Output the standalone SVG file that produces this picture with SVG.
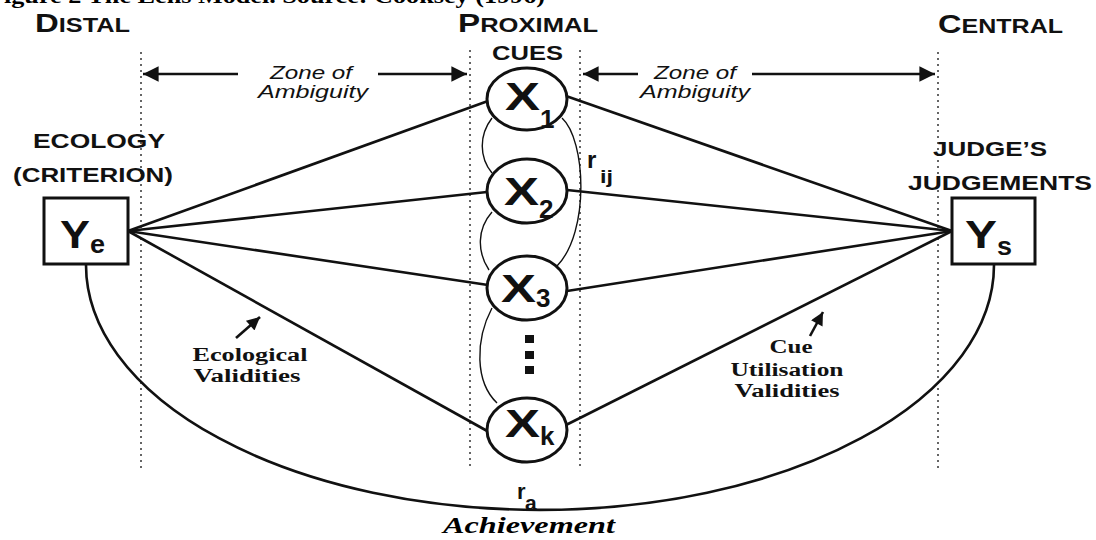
<svg xmlns="http://www.w3.org/2000/svg" width="1096" height="540" viewBox="0 0 1096 540">
<style>
.hdr{font-family:"Liberation Sans",Arial,sans-serif;font-weight:bold;fill:#111}
.zone{font-family:"Liberation Sans",Arial,sans-serif;font-style:italic;font-size:19px;fill:#111}
.ser{font-family:"Liberation Serif","Times New Roman",serif;font-weight:bold;font-size:18px;fill:#111}
.xl{font-family:"Liberation Sans",Arial,sans-serif;font-weight:bold;fill:#111}
.dot{stroke:#333;stroke-width:1.5;stroke-dasharray:2 4;fill:none}
.ln{stroke:#111;stroke-width:2.6;fill:none}
.thin{stroke:#111;stroke-width:1.4;fill:none}
.node{fill:#fff;stroke:#111;stroke-width:3}
</style>
<defs>
<marker id="ah" viewBox="0 0 10 10" refX="10" refY="5" markerWidth="8" markerHeight="6" markerUnits="strokeWidth" orient="auto">
<path d="M0,0 L10,5 L0,10 z" fill="#111"/>
</marker>
<marker id="ahs" viewBox="0 0 10 10" refX="10" refY="5" markerWidth="6" markerHeight="5" markerUnits="strokeWidth" orient="auto">
<path d="M0,0 L10,5 L0,10 z" fill="#111"/>
</marker>
</defs>
<rect width="1096" height="540" fill="#fff"/>
<text x="-12" y="3" font-family="Liberation Serif,'Times New Roman',serif" font-weight="bold" font-size="22" textLength="557" lengthAdjust="spacingAndGlyphs">Figure 2 The Lens Model. Source: Cooksey (1996)</text>

<g id="headers">
<text class="hdr" x="35" y="32" textLength="95" lengthAdjust="spacingAndGlyphs"><tspan font-size="26">D</tspan><tspan font-size="20">ISTAL</tspan></text>
<text class="hdr" x="458" y="32" textLength="140" lengthAdjust="spacingAndGlyphs"><tspan font-size="26">P</tspan><tspan font-size="20">ROXIMAL</tspan></text>
<text class="hdr" x="492" y="60" font-size="20" textLength="71" lengthAdjust="spacingAndGlyphs">CUES</text>
<text class="hdr" x="938" y="33" textLength="125" lengthAdjust="spacingAndGlyphs"><tspan font-size="26">C</tspan><tspan font-size="20">ENTRAL</tspan></text>
</g>

<g id="guides">
<line class="dot" x1="141" y1="52" x2="141" y2="468"/>
<line class="dot" x1="470" y1="50" x2="470" y2="470"/>
<line class="dot" x1="580" y1="50" x2="580" y2="470"/>
<line class="dot" x1="938" y1="52" x2="938" y2="468"/>
</g>

<g id="zone-left">
<line class="ln" x1="238" y1="74" x2="143" y2="74" marker-end="url(#ah)"/>
<line class="ln" x1="378" y1="74" x2="467" y2="74" marker-end="url(#ah)"/>
<text class="zone" x="311" y="79" text-anchor="middle" textLength="82" lengthAdjust="spacingAndGlyphs">Zone of</text>
<text class="zone" x="313" y="98" text-anchor="middle" textLength="110" lengthAdjust="spacingAndGlyphs">Ambiguity</text>
</g>
<g id="zone-right">
<line class="ln" x1="638" y1="74" x2="583" y2="74" marker-end="url(#ah)"/>
<line class="ln" x1="752" y1="74" x2="935" y2="74" marker-end="url(#ah)"/>
<text class="zone" x="695" y="79" text-anchor="middle" textLength="82" lengthAdjust="spacingAndGlyphs">Zone of</text>
<text class="zone" x="695" y="98" text-anchor="middle" textLength="110" lengthAdjust="spacingAndGlyphs">Ambiguity</text>
</g>

<g id="connectors">
<line class="ln" x1="128" y1="231" x2="488" y2="101"/>
<line class="ln" x1="128" y1="231" x2="487" y2="192"/>
<line class="ln" x1="128" y1="231" x2="488" y2="285"/>
<line class="ln" x1="128" y1="231" x2="489" y2="432"/>
<line class="ln" x1="952" y1="231" x2="566" y2="96"/>
<line class="ln" x1="952" y1="231" x2="567" y2="190"/>
<line class="ln" x1="952" y1="231" x2="567" y2="291"/>
<line class="ln" x1="952" y1="231" x2="566" y2="425"/>
<path class="thin" d="M492,118 C479,135 479,157 492,173"/>
<path class="thin" d="M492,212 C477,229 477,252 489,270"/>
<path class="thin" d="M492,308 C475,340 475,382 497,403"/>
<path class="thin" d="M562,118 C586,140 590,232 557,266"/>
<path class="ln" d="M86,265 A454,245 0 0 0 994,265"/>
<line class="ln" stroke-width="2" x1="236" y1="338" x2="260" y2="317" marker-end="url(#ahs)"/>
<line class="ln" stroke-width="2" x1="810" y1="336" x2="823" y2="312" marker-end="url(#ahs)"/>
</g>

<g id="node-ye">
<text class="hdr" x="33" y="148" font-size="21" textLength="132" lengthAdjust="spacingAndGlyphs">ECOLOGY</text>
<text class="hdr" x="13" y="182" font-size="21" textLength="160" lengthAdjust="spacingAndGlyphs">(CRITERION)</text>
<rect class="node" x="44" y="198" width="84" height="66"/>
<text class="xl" x="60" y="248" font-size="38" textLength="30" lengthAdjust="spacingAndGlyphs">Y</text>
<text class="xl" x="90" y="253" font-size="25" textLength="15" lengthAdjust="spacingAndGlyphs">e</text>
</g>

<g id="node-ys">
<text class="hdr" x="933" y="156" font-size="21" textLength="114" lengthAdjust="spacingAndGlyphs">JUDGE’S</text>
<text class="hdr" x="908" y="190" font-size="21" textLength="184" lengthAdjust="spacingAndGlyphs">JUDGEMENTS</text>
<rect class="node" x="952" y="198" width="83" height="66"/>
<text class="xl" x="965" y="248" font-size="38" textLength="32" lengthAdjust="spacingAndGlyphs">Y</text>
<text class="xl" x="997" y="255" font-size="25" textLength="15" lengthAdjust="spacingAndGlyphs">s</text>
</g>

<g id="node-x1">
<ellipse class="node" cx="527" cy="99" rx="40" ry="31"/>
<text class="xl" x="505" y="110" font-size="38" textLength="35" lengthAdjust="spacingAndGlyphs">X</text>
<text class="xl" x="540" y="128" font-size="26">1</text>
</g>
<g id="node-x2">
<ellipse class="node" cx="527" cy="191" rx="40" ry="32"/>
<text class="xl" x="504" y="205" font-size="38" textLength="35" lengthAdjust="spacingAndGlyphs">X</text>
<text class="xl" x="539" y="218" font-size="26">2</text>
</g>
<g id="node-x3">
<ellipse class="node" cx="527" cy="288" rx="40" ry="32"/>
<text class="xl" x="501" y="302" font-size="38" textLength="35" lengthAdjust="spacingAndGlyphs">X</text>
<text class="xl" x="536" y="307" font-size="26">3</text>
</g>
<g id="ellipsis">
<rect x="525" y="335" width="9" height="8" fill="#111"/>
<rect x="525" y="351" width="9" height="8" fill="#111"/>
<rect x="525" y="366" width="9" height="8" fill="#111"/>
</g>
<g id="node-xk">
<ellipse class="node" cx="527" cy="430" rx="40" ry="32"/>
<text class="xl" x="505" y="437" font-size="38" textLength="35" lengthAdjust="spacingAndGlyphs">X</text>
<text class="xl" x="540" y="445" font-size="26">k</text>
</g>

<g id="labels">
<text class="xl" x="587" y="168" font-size="24">r</text>
<text class="xl" x="600" y="183" font-size="18" textLength="13" lengthAdjust="spacingAndGlyphs">ij</text>
<text class="ser" x="250" y="361" text-anchor="middle" textLength="115" lengthAdjust="spacingAndGlyphs">Ecological</text>
<text class="ser" x="247" y="382" text-anchor="middle" textLength="107" lengthAdjust="spacingAndGlyphs">Validities</text>
<text class="ser" x="791" y="353" text-anchor="middle" textLength="43" lengthAdjust="spacingAndGlyphs">Cue</text>
<text class="ser" x="787" y="376" text-anchor="middle" textLength="113" lengthAdjust="spacingAndGlyphs">Utilisation</text>
<text class="ser" x="787" y="397" text-anchor="middle" textLength="105" lengthAdjust="spacingAndGlyphs">Validities</text>
<text class="xl" x="517" y="499" font-size="22">r</text>
<text class="xl" x="525" y="510" font-size="21">a</text>
<text x="443" y="533" font-family="Liberation Serif,'Times New Roman',serif" font-weight="bold" font-style="italic" font-size="24" textLength="172" lengthAdjust="spacingAndGlyphs">Achievement</text>
</g>
</svg>
